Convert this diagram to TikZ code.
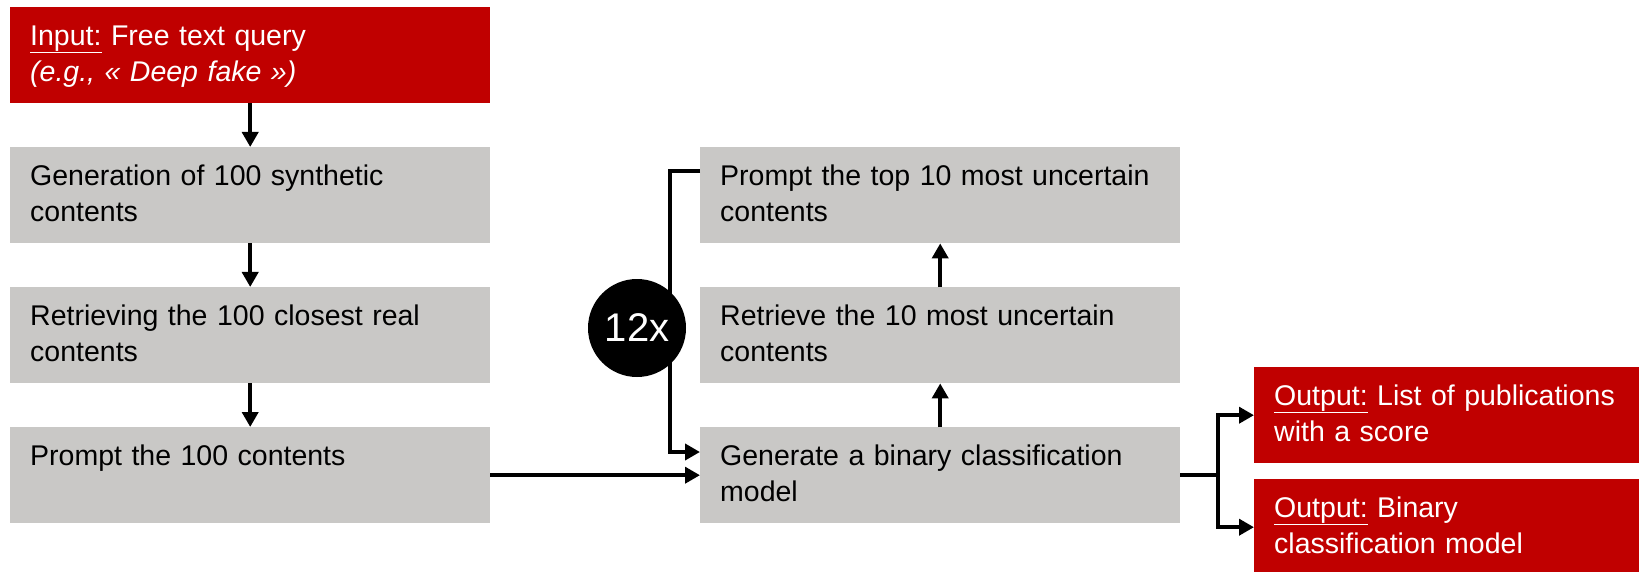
\documentclass[tikz,border=0pt]{standalone}
\usepackage{fontspec}
\setmainfont{Liberation Sans}
\usepackage{xcolor}
\usetikzlibrary{arrows.meta,calc}
\definecolor{boxred}{RGB}{192,0,0}
\definecolor{boxgray}{RGB}{201,200,198}

\begin{document}
\begin{tikzpicture}[x=1pt, y=-1pt, >={Triangle[length=15pt,width=16pt]},
  flowbox/.style={anchor=north west, inner xsep=20pt, inner ysep=0pt, text width=#1, align=left,
    text height=38pt, text depth=58pt, font=\fontsize{28.5}{36}\selectfont},
  graybox/.style={flowbox=#1, fill=boxgray},
  redbox/.style={flowbox=#1, fill=boxred, text=white},
  flow/.style={line width=4pt, ->}]

\useasboundingbox (0,0) rectangle (1639,572);

\node (in) at (10,7) [redbox=440pt] {\underline{Input:} Free text query\\ \textit{(e.g., « Deep fake »)}};
\node (g1) at (10,147) [graybox=440pt] {Generation of 100 synthetic\\ contents};
\node (g2) at (10,287) [graybox=440pt] {Retrieving the 100 closest real\\ contents};
\node (g3) at (10,427) [graybox=440pt] {Prompt the 100 contents};

\node (top) at (700,147) [graybox=440pt] {Prompt the top 10 most uncertain\\ contents};
\node (ret) at (700,287) [graybox=440pt] {Retrieve the 10 most uncertain\\ contents};
\node (gen) at (700,427) [graybox=440pt] {Generate a binary classification\\ model};

\node (out1) at (1254,367) [redbox=360pt] {\underline{Output:} List of publications\\ with a score};
\node (out2) at (1254,479) [redbox=360pt] {\underline{Output:} Binary\\ classification model};

\draw[flow] (in) -- (g1);
\draw[flow] (g1) -- (g2);
\draw[flow] (g2) -- (g3);
\draw[flow] (g3) -- (gen);
\draw[flow] (gen) -- (ret);
\draw[flow] (ret) -- (top);
\draw[flow] ($(top.north west)+(0,24)$) -- ++(-30,0) |- ($(gen.north west)+(0,25)$);

\node (rep) at (637,328) [circle, fill=black, minimum size=98pt, inner sep=0pt, text=white,
  font=\fontsize{40}{44}\selectfont] {12x};

\draw[flow] (gen.east) -- ++(38,0) coordinate (split) |- (out1.west);
\draw[flow] (split) |- (out2.west);

\end{tikzpicture}
\end{document}
